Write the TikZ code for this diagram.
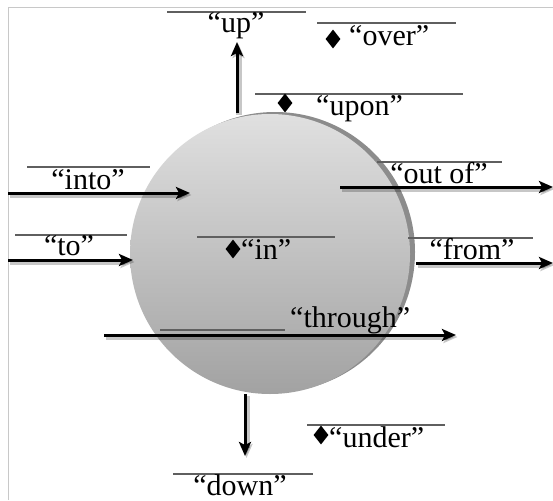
\documentclass[tikz,border=0pt]{standalone}
\usepackage{fontspec}
\setmainfont{Liberation Serif}
\usetikzlibrary{arrows.meta,shapes.geometric}
\definecolor{ctop}{RGB}{224,224,224}
\definecolor{cbot}{RGB}{162,162,162}
\definecolor{crim}{RGB}{140,140,140}
\definecolor{cline}{RGB}{95,95,95}
\definecolor{cframe}{RGB}{200,200,200}
\tikzset{
  arr/.style={line width=3pt, -{Stealth[length=14pt,width=12pt,inset=3pt]},
    preaction={draw=black, opacity=0.22, line width=6pt, transform canvas={shift={(1.5pt,-2pt)}}}},
  lbl/.style={draw=cline, line width=1.3pt},
  word/.style={font=\fontsize{30}{34}\selectfont, inner sep=0pt, anchor=base},
  dmd/.style={diamond, fill=black, inner sep=0pt, minimum width=15pt, minimum height=19pt}
}
\begin{document}
\begin{tikzpicture}[x=1pt,y=-1pt]
\useasboundingbox (0,0) rectangle (553,500);
% frame
\coordinate (f1) at (8,500); \coordinate (f2) at (8,8); \coordinate (f3) at (553,8);
\draw[cframe, line width=1pt] (f1) -- (f2) -- (f3);
% disk
\node[circle, fill=crim, minimum size=280pt, inner sep=0pt] (rim) at (275,252) {};
\node[circle, top color=ctop, bottom color=cbot, minimum size=280pt, inner sep=0pt] (disk) at (270,254) {};
% up
\coordinate (upA) at (167,12); \coordinate (upB) at (306,12);
\draw[lbl] (upA) -- (upB);
\node[word] (up) at (236,33) {“up”};
\coordinate (upS) at (237,113); \coordinate (upE) at (237,42);
\draw[arr] (upS) -- (upE);
% over
\coordinate (ovA) at (317,23); \coordinate (ovB) at (456,23);
\draw[lbl] (ovA) -- (ovB);
\node[dmd] (ovD) at (333,39) {};
\node[word, anchor=base west] (over) at (349,46) {“over”};
% upon
\coordinate (unA) at (255,94); \coordinate (unB) at (463,94);
\draw[lbl] (unA) -- (unB);
\node[dmd] (unD) at (285,103) {};
\node[word, anchor=base west] (upon) at (316,115) {“upon”};
% into
\coordinate (itA) at (27,167); \coordinate (itB) at (150,167);
\draw[lbl] (itA) -- (itB);
\node[word] (into) at (88,189) {“into”};
\coordinate (itS) at (8,193); \coordinate (itE) at (190,193);
\draw[arr] (itS) -- (itE);
% to
\coordinate (toA) at (15,235); \coordinate (toB) at (127,235);
\draw[lbl] (toA) -- (toB);
\node[word] (to) at (69,255) {“to”};
\coordinate (toS) at (8,260); \coordinate (toE) at (133,260);
\draw[arr] (toS) -- (toE);
% out of
\coordinate (ooA) at (377,162); \coordinate (ooB) at (502,162);
\draw[lbl] (ooA) -- (ooB);
\node[word] (outof) at (439,183) {“out of”};
\coordinate (ooS) at (340,187); \coordinate (ooE) at (553,187);
\draw[arr] (ooS) -- (ooE);
% from
\coordinate (frA) at (408,238); \coordinate (frB) at (533,238);
\draw[lbl] (frA) -- (frB);
\node[word] (from) at (472,259) {“from”};
\coordinate (frS) at (416,263); \coordinate (frE) at (553,263);
\draw[arr] (frS) -- (frE);
% in
\coordinate (inA) at (197,237); \coordinate (inB) at (335,237);
\draw[lbl] (inA) -- (inB);
\node[dmd] (inD) at (233,249) {};
\node[word, anchor=base west] (in) at (241,259) {“in”};
% through
\coordinate (thA) at (160,330); \coordinate (thB) at (285,330);
\draw[lbl] (thA) -- (thB);
\node[word, anchor=base west] (through) at (290,327) {“through”};
\coordinate (thS) at (104,335); \coordinate (thE) at (456,335);
\draw[arr] (thS) -- (thE);
% down
\coordinate (dnS) at (245,394); \coordinate (dnE) at (245,456);
\draw[arr] (dnS) -- (dnE);
\coordinate (dnA) at (173,474); \coordinate (dnB) at (313,474);
\draw[lbl] (dnA) -- (dnB);
\node[word] (down) at (240,495) {“down”};
% under
\coordinate (udA) at (307,425); \coordinate (udB) at (445,425);
\draw[lbl] (udA) -- (udB);
\node[dmd] (udD) at (321,435) {};
\node[word, anchor=base west] (under) at (329,447) {“under”};
\end{tikzpicture}
\end{document}
